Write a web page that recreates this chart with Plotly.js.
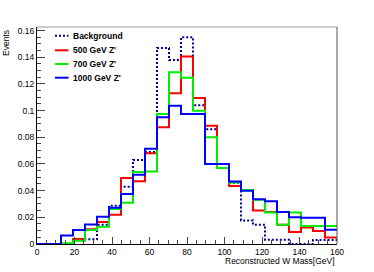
<!DOCTYPE html>
<html>
<head>
<meta charset="utf-8">
<script src="https://cdn.plot.ly/plotly-3.0.1.min.js"></script>
<style>html,body{margin:0;padding:0;background:#fff;}#chart{width:374px;height:272px;}</style>
</head>
<body>
<div id="chart"></div>
<script>
// Bin low edges (GeV) and upper end of last bin
const binLow = [0, 6.4, 12.8, 19.2, 25.6, 32, 38.4, 44.8, 51.2, 57.6, 64, 70.4, 76.8, 83.2, 89.6, 96, 102.4, 108.8, 115.2, 121.6, 128, 134.4, 140.8, 147.2, 153.6];
const binEnd = 160;

const seriesNames = ["Background", "500 GeV Z'", "700 GeV Z'", "1000 GeV Z'"];

const background = [0, 0, 0, 0.0035, 0.0035, 0.0145, 0.0287, 0.043, 0.063, 0.069, 0.147, 0.138, 0.155, 0.104, 0.086, 0.057, 0.046, 0.0177, 0.0145, 0.0032, 0.0032, 0, 0, 0.003, 0.003];
const z500 = [0, 0, 0, 0.0037, 0.011, 0.0165, 0.022, 0.0494, 0.047, 0.068, 0.0876, 0.113, 0.1405, 0.1095, 0.0886, 0.057, 0.0434, 0.0404, 0.0252, 0.024, 0.0145, 0.009, 0.0124, 0.0098, 0.0048];
const z700 = [0, 0, 0.0005, 0.0025, 0.0105, 0.013, 0.0262, 0.031, 0.054, 0.0544, 0.0975, 0.1288, 0.1246, 0.100, 0.080, 0.0569, 0.0462, 0.0405, 0.0332, 0.0237, 0.0145, 0.0237, 0.0135, 0.0135, 0.0135];
const z1000 = [0, 0, 0.0064, 0.0105, 0.0147, 0.0205, 0.0272, 0.0375, 0.052, 0.0714, 0.095, 0.1037, 0.0975, 0.0975, 0.060, 0.060, 0.0469, 0.040, 0.0335, 0.032, 0.024, 0.020, 0.0197, 0.0197, 0.0107];

const xTitle = "Reconstructed W Mass[GeV]";
const yTitle = "Events";

const colors = ["#000099", "#ff0000", "#00ee00", "#0000ff"];
const dashes = ["2px,2px", "solid", "solid", "solid"];
const allSeries = [background, z500, z700, z1000];

const FONT = "Liberation Sans, Arial, Helvetica, sans-serif";

const traces = allSeries.map((vals, i) => ({
  type: "scatter",
  mode: "lines",
  x: binLow.concat([binEnd]),
  y: vals.concat([vals[vals.length - 1]]),
  line: {shape: "hv", color: colors[i], width: 2, dash: dashes[i]},
  name: seriesNames[i],
  showlegend: false,
  hoverinfo: "skip"
}));

// plot geometry (pixels)
const W = 374, H = 272;
const M = {l: 37, r: 37, t: 27, b: 28};
const PW = W - M.l - M.r, PH = H - M.t - M.b;
const px = v => (v - M.l) / PW;
const py = v => (H - M.b - v) / PH;

// legend built manually (ROOT-style)
const legRows = [35.7, 50.3, 64, 77.7];
const shapes = [
  {type: "line", xref: "paper", yref: "paper", x0: 0, x1: 1, y0: 1, y1: 1, line: {color: "#999999", width: 1}},
  {type: "line", xref: "paper", yref: "paper", x0: 1, x1: 1, y0: 0, y1: 1, line: {color: "#555555", width: 1}}
];
const annotations = [
  {xref: "paper", yref: "paper", x: 1, y: 0, xanchor: "right", yanchor: "top", yshift: -10,
   text: xTitle, showarrow: false, font: {family: FONT, size: 8.5, color: "#000"}},
  {xref: "paper", yref: "paper", x: 0, y: 1, xanchor: "center", yanchor: "top", xshift: -31, yshift: -1,
   text: yTitle, textangle: -90, showarrow: false, font: {family: FONT, size: 8.5, color: "#000"}}
];
seriesNames.forEach((nm, i) => {
  shapes.push({type: "line", xref: "paper", yref: "paper", x0: px(55), x1: px(68.5), y0: py(legRows[i]), y1: py(legRows[i]),
    line: {color: colors[i], width: 2, dash: dashes[i]}});
  annotations.push({xref: "paper", yref: "paper", x: px(71), y: py(legRows[i]), xanchor: "left", yanchor: "middle",
    text: "<b>" + nm + "</b>", showarrow: false, font: {family: FONT, size: 8.5, color: "#000"}});
});

const layout = {
  width: W, height: H,
  margin: M,
  paper_bgcolor: "#fff", plot_bgcolor: "#fff",
  showlegend: false,
  font: {family: FONT, size: 8.5, color: "#000"},
  xaxis: {
    range: [0, 160], tick0: 0, dtick: 20, ticks: "inside", ticklen: 7, tickcolor: "#444", tickwidth: 1,
    showgrid: false, zeroline: false, showline: true, linecolor: "#000", linewidth: 1,
    tickfont: {family: FONT, size: 8.5, color: "#000"},
    minor: {tick0: 0, dtick: 5, ticks: "inside", ticklen: 4, tickcolor: "#444", showgrid: false}
  },
  yaxis: {
    range: [0, 0.1627], tick0: 0, dtick: 0.02, ticks: "inside", ticklen: 8, tickcolor: "#444", tickwidth: 1,
    showgrid: false, zeroline: false, showline: true, linecolor: "#000", linewidth: 1,
    tickfont: {family: FONT, size: 8.5, color: "#000"},
    minor: {tick0: 0, dtick: 0.005, ticks: "inside", ticklen: 4, tickcolor: "#444", showgrid: false}
  },
  shapes: shapes,
  annotations: annotations
};

Plotly.newPlot("chart", traces, layout, {staticPlot: true, displayModeBar: false});
</script>
</body>
</html>
